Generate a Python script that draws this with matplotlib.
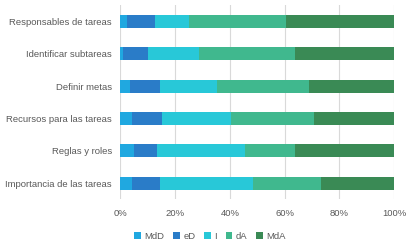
import matplotlib
matplotlib.use("Agg")
import matplotlib.pyplot as plt
import numpy as np

categories = ["Responsables de tareas", "Identificar subtareas", "Definir metas",
              "Recursos para las tareas", "Reglas y roles", "Importancia de las tareas"]
series = ["MdD", "eD", "I", "dA", "MdA"]
mdd = [2.4, 0.9, 3.5, 4.3, 5.0, 4.3]
ed = [10.2, 9.1, 10.9, 10.9, 8.3, 10.1]
ind = [12.6, 18.8, 20.9, 25.2, 32.3, 33.9]
da = [35.3, 35.0, 33.7, 30.4, 18.2, 25.0]
mda = [39.5, 36.2, 31.0, 29.2, 36.2, 26.7]
colors = ["#20a8e0", "#2a7cc8", "#28c8d8", "#40b88e", "#3a8a55"]

plt.rcParams['font.family'] = ['Liberation Sans', 'DejaVu Sans']

fig = plt.figure(figsize=(4.08, 2.43), dpi=100)
ax = fig.add_axes([0.295, 0.18, 0.671, 0.798])

y = np.arange(len(categories))
left = np.zeros(len(categories))
for name, vals, c in zip(series, [mdd, ed, ind, da, mda], colors):
    ax.barh(y, vals, left=left, height=0.4, color=c, label=name, zorder=3)
    left += np.array(vals)

ax.set_ylim(len(categories) - 0.5, -0.5)
ax.set_xlim(0, 100)
ax.set_xticks(np.arange(0, 101, 20))
ax.set_xticklabels([f"{v}%" for v in range(0, 101, 20)])
ax.set_yticks(y)
ax.set_yticklabels(categories)
ax.tick_params(length=0, labelsize=6.8, colors="#595959")
ax.tick_params(axis="y", pad=6)
ax.tick_params(axis="x", pad=7)
ax.grid(axis="x", color="#d9d9d9", linewidth=0.8, zorder=0)
for s in ax.spines.values():
    s.set_visible(False)

fig.legend(loc="center", bbox_to_anchor=(0.515, 0.028), ncol=5, frameon=False,
           fontsize=6.8, handlelength=0.7, handleheight=0.7, handletextpad=0.4,
           columnspacing=0.9, labelcolor="#595959")

fig.savefig("out.png", dpi=100)
